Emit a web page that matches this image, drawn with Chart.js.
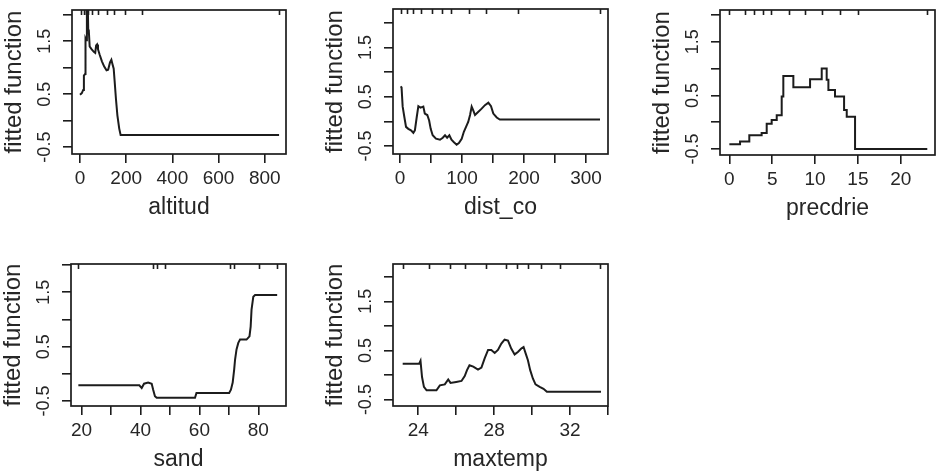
<!DOCTYPE html>
<html>
<head>
<meta charset="utf-8">
<script src="https://cdn.jsdelivr.net/npm/chart.js@4.4.1/dist/chart.umd.min.js"></script>
<style>
body { margin: 0; background: #fff; width: 945px; height: 471px; position: relative; overflow: hidden; }
canvas { position: absolute; }
</style>
</head>
<body>
<canvas id="c1"></canvas>
<canvas id="c2"></canvas>
<canvas id="c3"></canvas>
<canvas id="c4"></canvas>
<canvas id="c5"></canvas>
<script>
// partial dependence values
const altitudX = [0, 8, 14, 17, 22, 24, 27, 30, 33, 36, 38, 42, 50, 60, 66, 70, 74, 78, 85, 95, 105, 115, 122, 130, 136, 140, 146, 150, 156, 162, 170, 176, 862];
const altitudY = [0.49, 0.52, 0.58, 0.85, 0.88, 1.55, 1.52, 2.4, 2.4, 1.65, 1.72, 1.4, 1.35, 1.3, 1.28, 1.42, 1.44, 1.35, 1.25, 1.12, 1.02, 0.95, 0.96, 1.1, 1.15, 1.08, 0.98, 0.75, 0.4, 0.1, -0.15, -0.27, -0.27];
const altitudRug = [4, 17, 26, 35, 52, 78, 117, 147, 195, 268, 861];

const distX = [1, 2.5, 4.3, 7, 9.7, 13.4, 17.7, 21.5, 24, 27, 29.6, 33, 37.6, 40, 44, 47, 49.5, 52.7, 58, 64.5, 69, 72.6, 76, 79.6, 83, 87, 91.4, 95, 99.5, 103, 106.5, 110, 113, 115.6, 118, 121, 126, 131.7, 137, 142.5, 146.8, 150.5, 156, 161, 322.6];
const distY = [0.71, 0.69, 0.3, 0.09, -0.11, -0.15, -0.18, -0.23, -0.18, 0.09, 0.31, 0.28, 0.3, 0.16, 0.13, 0.02, -0.15, -0.28, -0.35, -0.37, -0.33, -0.28, -0.33, -0.28, -0.37, -0.42, -0.47, -0.44, -0.35, -0.21, -0.11, -0.01, 0.13, 0.3, 0.23, 0.13, 0.19, 0.26, 0.33, 0.38, 0.31, 0.16, 0.08, 0.04, 0.04];
const distRug = [1, 11, 21, 34, 51, 67, 83, 112, 139, 190, 323];

const precX = [0, 1.25, 2.33, 3.77, 4.36, 4.94, 5.53, 6.11, 6.3, 7.47, 9.42, 10.78, 11.36, 11.56, 12.33, 13.39, 13.7, 14.67, 23.1];
const precY = [-0.41, -0.36, -0.24, -0.2, -0.03, 0.04, 0.13, 0.48, 0.86, 0.65, 0.8, 1.0, 0.79, 0.6, 0.48, 0.23, 0.1, -0.5, -0.5];
const precRug = [0, 1.83, 2.88, 3.9, 4.86, 7, 8.8, 10.8, 12.9, 15, 23.1];

const sandX = [18.9, 39.6, 40.4, 41.2, 42.6, 43.8, 44.3, 44.9, 45.5, 58.5, 59, 70.1, 70.7, 71.3, 71.8, 72.1, 72.6, 73.2, 73.8, 76, 77, 77.4, 77.7, 78.3, 78.9, 86.4];
const sandY = [-0.21, -0.21, -0.26, -0.18, -0.16, -0.18, -0.29, -0.41, -0.44, -0.44, -0.35, -0.35, -0.29, -0.16, 0.08, 0.26, 0.45, 0.57, 0.63, 0.63, 0.69, 0.87, 1.18, 1.42, 1.45, 1.45];
const sandRug = [18.9, 44.3, 44.3, 45.7, 48.3, 70.4, 70.4, 71.7, 80.3, 80.3, 86.2];

const maxtempX = [23.18, 24.05, 24.12, 24.2, 24.3, 24.44, 24.96, 25.14, 25.4, 25.58, 25.7, 26.0, 26.28, 26.45, 26.57, 26.7, 26.9, 27.15, 27.33, 27.5, 27.68, 27.85, 28.03, 28.2, 28.38, 28.55, 28.73, 28.9, 29.08, 29.25, 29.43, 29.55, 29.66, 29.78, 29.9, 30.04, 30.18, 30.4, 30.6, 30.78, 33.63];
const maxtempY = [0.23, 0.23, 0.29, -0.04, -0.24, -0.31, -0.31, -0.21, -0.19, -0.09, -0.16, -0.14, -0.12, -0.02, 0.1, 0.2, 0.17, 0.11, 0.15, 0.34, 0.51, 0.51, 0.45, 0.51, 0.64, 0.72, 0.7, 0.54, 0.42, 0.47, 0.54, 0.57, 0.44, 0.3, 0.1, -0.07, -0.19, -0.24, -0.28, -0.34, -0.34];
const maxtempRug = [23.18, 24.58, 25.66, 26.45, 27.55, 28.6, 29.22, 29.81, 30.47, 31.47, 33.57];

// axis ticks
const yTicks = [-0.5, 0, 0.5, 1, 1.5, 2];
const yLabels = [-0.5, 0.5, 1.5];
const altitudTicks = [0, 200, 400, 600, 800];
const altitudLabels = [0, 200, 400, 600, 800];
const distTicks = [0, 50, 100, 150, 200, 250, 300];
const distLabels = [0, 100, 200, 300];
const precTicks = [0, 5, 10, 15, 20];
const precLabels = [0, 5, 10, 15, 20];
const sandTicks = [20, 30, 40, 50, 60, 70, 80];
const sandLabels = [20, 40, 60, 80];
const maxtempTicks = [24, 26, 28, 30, 32, 34];
const maxtempLabels = [24, 28, 32];

const ink = '#1c1c1c';
const textInk = '#262626';
const font = '"Liberation Sans", Arial, Helvetica, sans-serif';

// box, rug and rotated y labels in the R style
const rStyle = {
  id: 'rStyle',
  afterDraw(chart, args, opts) {
    const { ctx, chartArea: a, scales } = chart;
    ctx.save();
    ctx.strokeStyle = ink;
    ctx.lineWidth = 1.7;
    ctx.strokeRect(a.left, a.top, a.right - a.left, a.bottom - a.top);
    ctx.beginPath();
    opts.rug.forEach(v => {
      const x = Math.round(scales.x.getPixelForValue(v)) + 0.5;
      ctx.moveTo(x, a.top);
      ctx.lineTo(x, a.top + 5);
    });
    ctx.lineWidth = 1.6;
    ctx.stroke();
    ctx.fillStyle = textInk;
    ctx.font = '18px ' + font;
    ctx.textAlign = 'center';
    ctx.textBaseline = 'middle';
    yLabels.forEach(v => {
      const y = scales.y.getPixelForValue(v);
      ctx.save();
      ctx.translate(a.left - 27, y);
      ctx.rotate(-Math.PI / 2);
      ctx.fillText(String(v), 0, 0);
      ctx.restore();
    });
    ctx.restore();
  }
};

function drawPanel(id, box, xs, ys, rug, xMin, xMax, yMin, yMax, ticks, labels, name, stepped) {
  const canvas = document.getElementById(id);
  const w = box.right - box.left + 72 + 6;
  const h = box.bottom - box.top + 8 + 67;
  canvas.width = w;
  canvas.height = h;
  canvas.style.left = (box.left - 72) + 'px';
  canvas.style.top = (box.top - 8) + 'px';

  new Chart(canvas.getContext('2d'), {
    type: 'line',
    data: {
      datasets: [{
        data: xs.map((x, i) => ({ x: x, y: ys[i] })),
        borderColor: ink,
        borderWidth: 2,
        pointRadius: 0,
        tension: 0,
        stepped: stepped,
        clip: 0
      }]
    },
    options: {
      responsive: false,
      animation: false,
      events: [],
      layout: { padding: { top: 8, right: 6, left: 0, bottom: 0 } },
      plugins: {
        legend: { display: false },
        tooltip: { enabled: false },
        rStyle: { rug: rug }
      },
      scales: {
        x: {
          type: 'linear',
          min: xMin,
          max: xMax,
          afterBuildTicks: s => { s.ticks = ticks.map(v => ({ value: v })); },
          afterFit: s => { s.height = 67; },
          border: { display: false },
          grid: { drawOnChartArea: false, drawTicks: true, tickLength: 9, color: ink, tickColor: ink, lineWidth: 1.6, tickWidth: 1.6 },
          ticks: {
            autoSkip: false,
            maxRotation: 0,
            padding: 4,
            color: textInk,
            font: { family: font, size: 19 },
            callback: v => labels.includes(v) ? String(v) : ''
          },
          title: { display: true, text: name, color: textInk, font: { family: font, size: 23 }, padding: 0 }
        },
        y: {
          min: yMin,
          max: yMax,
          afterBuildTicks: s => { s.ticks = yTicks.map(v => ({ value: v })); },
          afterFit: s => { s.width = 72; },
          border: { display: false },
          grid: { drawOnChartArea: false, drawTicks: true, tickLength: 9, color: ink, tickColor: ink, lineWidth: 1.6, tickWidth: 1.6 },
          ticks: { display: false },
          title: { display: true, text: 'fitted function', color: textInk, font: { family: font, size: 24 }, padding: 0 }
        }
      }
    },
    plugins: [rStyle]
  });
}

drawPanel('c1', { left: 72, right: 286, top: 10, bottom: 154 }, altitudX, altitudY, altitudRug, -34.5, 892, -0.63, 2.09, altitudTicks, altitudLabels, 'altitud', false);
drawPanel('c2', { left: 393, right: 608, top: 9, bottom: 154 }, distX, distY, distRug, -11.3, 335.5, -0.66, 2.28, distTicks, distLabels, 'dist_co', false);
drawPanel('c3', { left: 720, right: 935, top: 10, bottom: 155 }, precX, precY, precRug, -1.09, 24.0, -0.61, 2.09, precTicks, precLabels, 'precdrie', true);
drawPanel('c4', { left: 71, right: 286, top: 264, bottom: 406 }, sandX, sandY, sandRug, 16.4, 89.4, -0.59, 2.02, sandTicks, sandLabels, 'sand', false);
drawPanel('c5', { left: 393, right: 608, top: 264, bottom: 406 }, maxtempX, maxtempY, maxtempRug, 22.67, 34.0, -0.63, 2.26, maxtempTicks, maxtempLabels, 'maxtemp', false);
</script>
</body>
</html>
